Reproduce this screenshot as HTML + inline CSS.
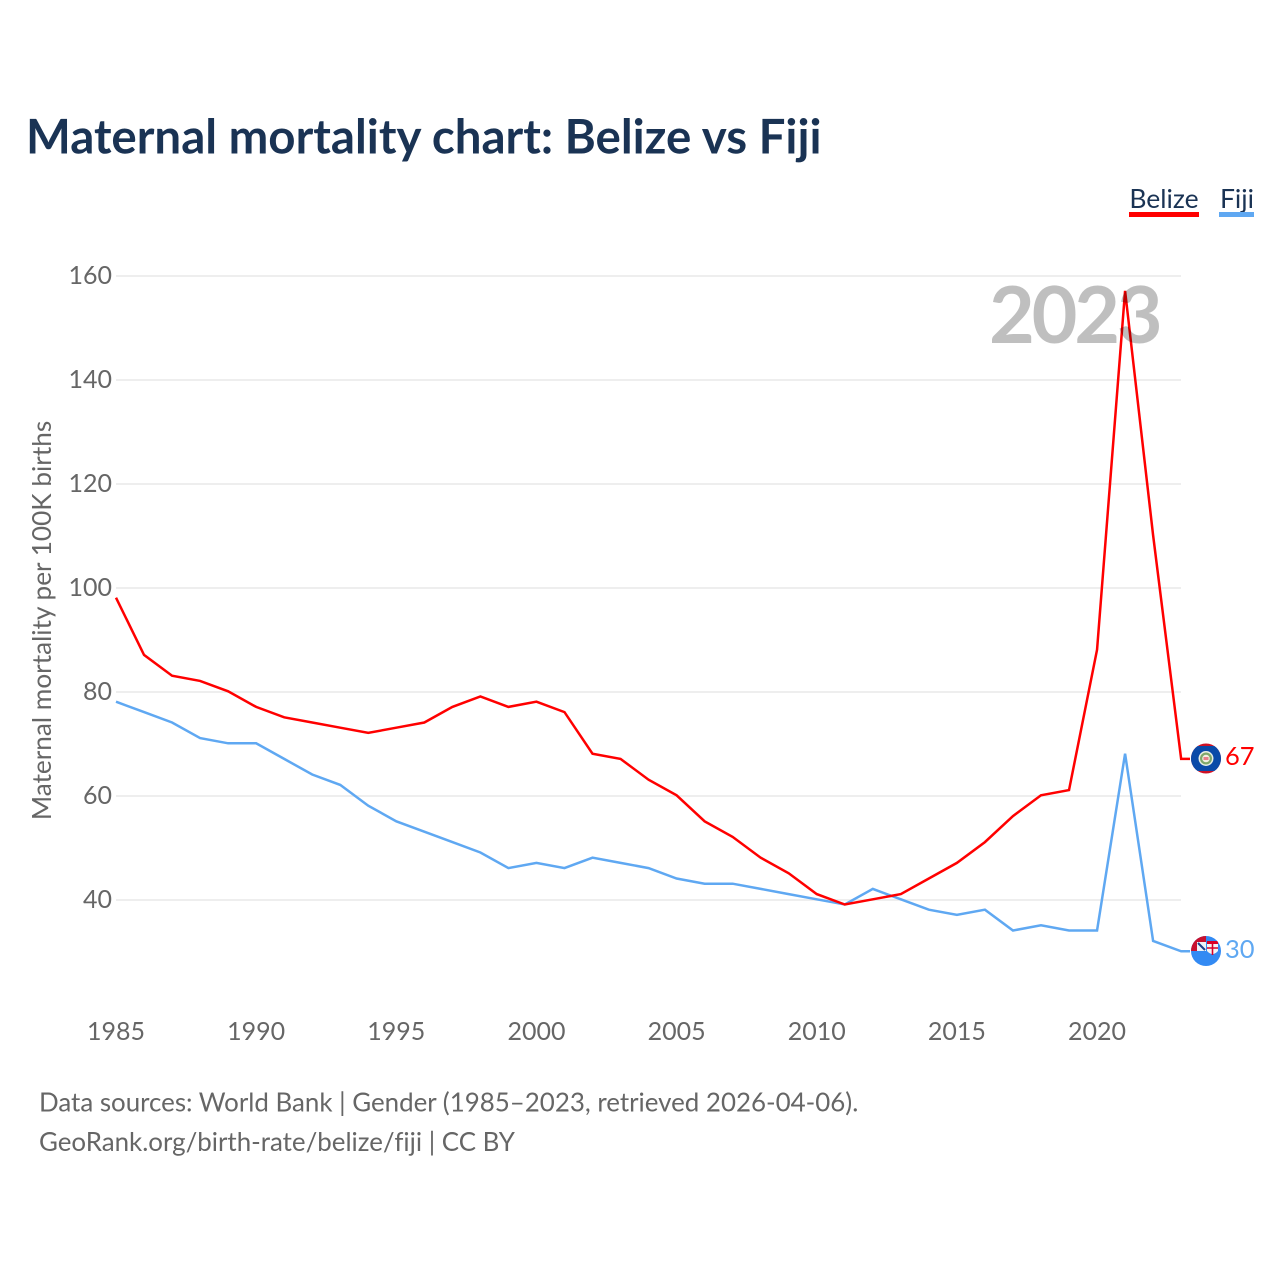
<!DOCTYPE html>
<html lang="en">
<head>
<meta charset="utf-8">
<title>Maternal mortality chart: Belize vs Fiji</title>
<style>
html,body{margin:0;padding:0;background:#fff;width:1280px;height:1280px;overflow:hidden}
svg{display:block}
text{font-family:"Lato","Carlito","Liberation Sans",sans-serif;font-variant-ligatures:none}
</style>
</head>
<body>
<svg id="chart" xmlns="http://www.w3.org/2000/svg" width="1280" height="1280" viewBox="0 0 1280 1280">
  <rect width="1280" height="1280" fill="#fff"/>
  <text x="26" y="153.5" font-size="47.45" font-weight="700" fill="#1a3354">Maternal mortality chart: Belize vs Fiji</text>
  <g id="grid"></g>
  <g id="yticks"></g>
  <g id="xticks"></g>
  <text transform="translate(51,620.5) rotate(-90)" text-anchor="middle" font-size="26.2" fill="#666">Maternal mortality per 100K births</text>
  <g id="lines"></g>
  <text id="year-label" x="1159.5" y="343" text-anchor="end" font-size="79" font-weight="700" letter-spacing="-3.2" fill="#000" fill-opacity="0.25">2023</text>

  <g>
    <text x="1164" y="208" text-anchor="middle" font-size="26.5" fill="#1a3354">Belize</text>
    <rect x="1129" y="212" width="70" height="5" fill="#ff0000"/>
  </g>
  <g>
    <text x="1237" y="208" text-anchor="middle" font-size="26.5" fill="#1a3354">Fiji</text>
    <rect x="1219" y="212" width="35" height="5" fill="#5fa8f2"/>
  </g>

  <defs>
    <clipPath id="clip-belize"><circle cx="1206" cy="758.5" r="15"/></clipPath>
    <clipPath id="clip-fiji"><circle cx="1206" cy="951" r="15"/></clipPath>
  </defs>
  <g clip-path="url(#clip-belize)">
    <rect x="1191" y="743" width="30" height="31" fill="#ce1126"/>
    <rect x="1191" y="746" width="30" height="25" fill="#0a4aa8"/>
    <circle cx="1206" cy="758.5" r="7.5" fill="#e8eee4"/>
    <circle cx="1206" cy="758.5" r="6" fill="#7fa86a"/>
    <circle cx="1206" cy="758.5" r="3.8" fill="#f2efe0"/>
    <rect x="1203.5" y="757" width="5" height="3" fill="#e8808a"/>
  </g>
  <g clip-path="url(#clip-fiji)">
    <rect x="1191" y="936" width="30" height="30" fill="#338af3"/>
    <rect x="1191" y="936" width="15" height="15" fill="#c8102e"/>
    <rect x="1197" y="942" width="9" height="9" fill="#eef2f8"/>
    <path d="M1198 943L1205 950" stroke="#1a3f8a" stroke-width="2"/>
    <path d="M1207 941H1218V951Q1212.5 957 1207 951Z" fill="#f4f4f4"/>
    <path d="M1212.5 941V955M1207 948H1218" stroke="#d80027" stroke-width="1.6"/>
    <rect x="1207" y="941" width="11" height="3" fill="#d80027"/>
  </g>
  <text id="value-belize" x="1225" y="765" font-size="25.5" fill="#ff0000">67</text>
  <text id="value-fiji" x="1225" y="958" font-size="25.5" fill="#5fa8f2">30</text>

  <text x="39" y="1111.7" font-size="25.9" fill="#666">Data sources: World Bank | Gender (1985–2023, retrieved 2026-04-06).</text>
  <text x="39" y="1151" font-size="25.9" fill="#666">GeoRank.org/birth-rate/belize/fiji | CC BY</text>
</svg>
<script>
const years = [1985,1986,1987,1988,1989,1990,1991,1992,1993,1994,1995,1996,1997,1998,1999,2000,2001,2002,2003,2004,2005,2006,2007,2008,2009,2010,2011,2012,2013,2014,2015,2016,2017,2018,2019,2020,2021,2022,2023];
const belize = [98,87,83,82,80,77,75,74,73,72,73,74,77,79,77,78,76,68,67,63,60,55,52,48,45,41,39,40,41,44,47,51,56,60,61,88,157,110,67];
const fiji = [78,76,74,71,70,70,67,64,62,58,55,53,51,49,46,47,46,48,47,46,44,43,43,42,41,40,39,42,40,38,37,38,34,35,34,34,68,32,30];
const yTickValues = [40,60,80,100,120,140,160];
const xTickValues = [1985,1990,1995,2000,2005,2010,2015,2020];

const NS = 'http://www.w3.org/2000/svg';
function xScale(year){ return 116 + (year - 1985) * 28.03; }
function yScale(v){ return 900 - (v - 40) * 5.2; }
function lineY(v){ return yScale(v) - 0.7; }
function make(tag, attrs){
  const el = document.createElementNS(NS, tag);
  for (const k in attrs) el.setAttribute(k, attrs[k]);
  return el;
}
const grid = document.getElementById('grid');
const yticks = document.getElementById('yticks');
const xticks = document.getElementById('xticks');
const lines = document.getElementById('lines');

yTickValues.forEach(function(v){
  const line = make('line', {x1:116, x2:1181, y1:yScale(v), y2:yScale(v), stroke:'#eeeeee', 'stroke-width':2});
  
  
  grid.appendChild(line);
  const label = make('text', {x:112, y:yScale(v) + 8, 'text-anchor':'end', 'font-size':25, fill:'#666'});
  
  
  label.textContent = v;
  yticks.appendChild(label);
});
xTickValues.forEach(function(y){
  const label = make('text', {x:xScale(y), y:1040, 'text-anchor':'middle', 'font-size':25, fill:'#666'});
  
  
  label.textContent = y;
  xticks.appendChild(label);
});
function linePoints(values){
  const pts = values.map(function(v, i){ return xScale(years[i]).toFixed(2) + ',' + lineY(v).toFixed(2); });
  pts.push('1190,' + lineY(values[values.length - 1]).toFixed(2));
  return pts.join(' ');
}
const fijiLine = make('polyline', {points:linePoints(fiji), fill:'none', stroke:'#5fa8f2', 'stroke-width':2.5, 'stroke-linejoin':'miter'});


lines.appendChild(fijiLine);
const belizeLine = make('polyline', {points:linePoints(belize), fill:'none', stroke:'#ff0000', 'stroke-width':2.5, 'stroke-linejoin':'miter'});


lines.appendChild(belizeLine);
document.getElementById('value-belize').textContent = belize[belize.length - 1];
document.getElementById('value-fiji').textContent = fiji[fiji.length - 1];
document.getElementById('year-label').textContent = years[years.length - 1];
</script>
</body>
</html>
